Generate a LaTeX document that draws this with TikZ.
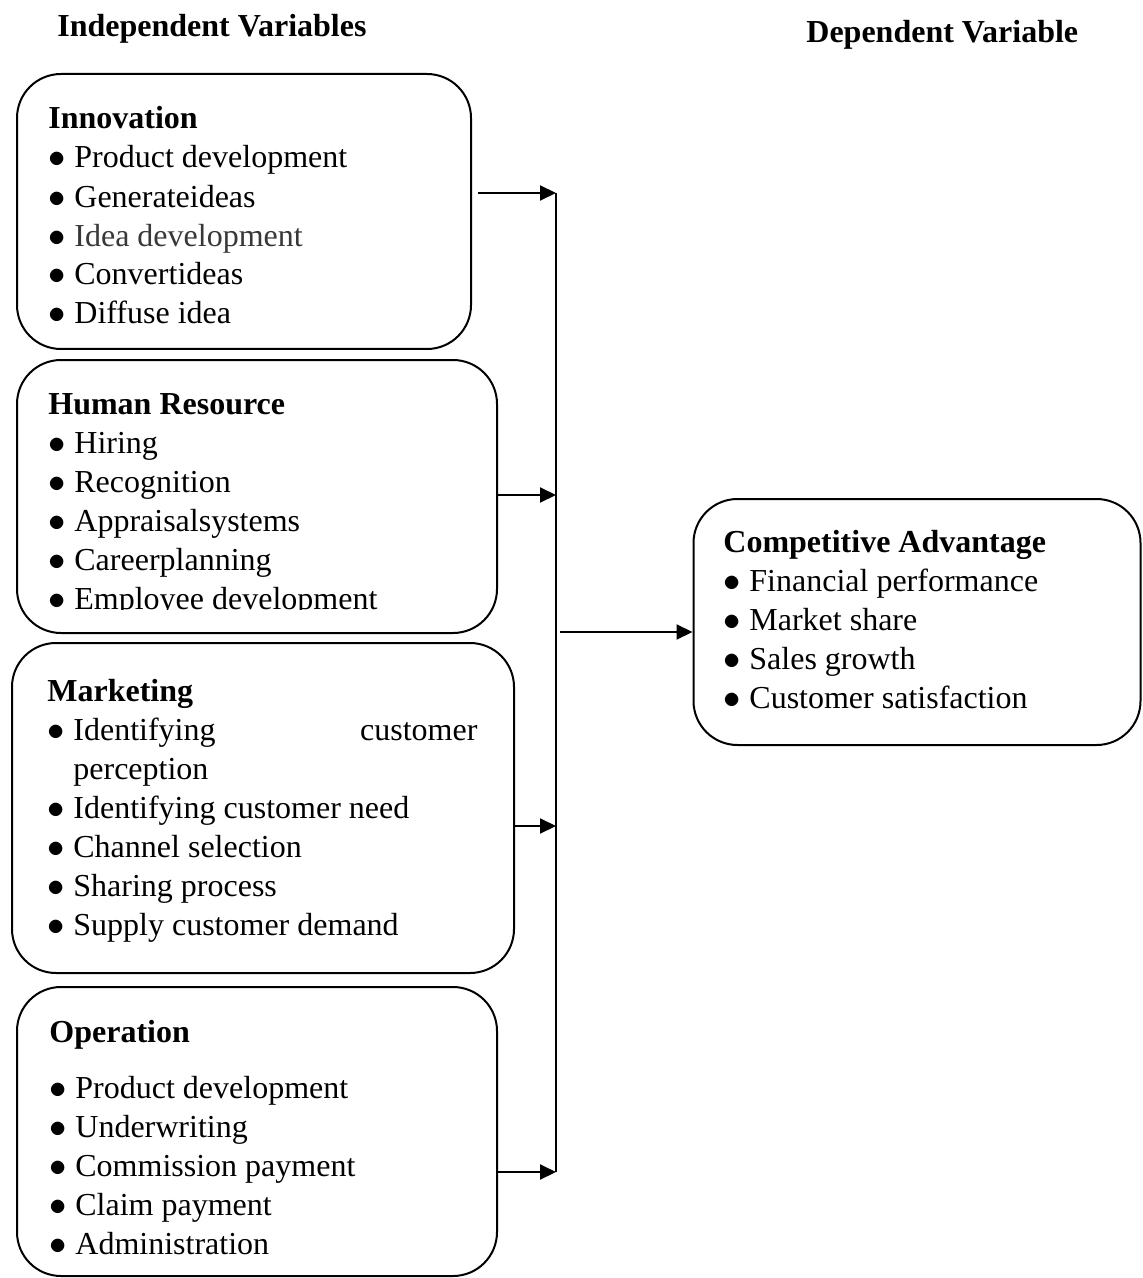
\documentclass[tikz,border=0pt]{standalone}
\usepackage{fontspec}
\setmainfont{Liberation Serif}
\usetikzlibrary{arrows.meta}
\newcommand{\itm}{\makebox[13pt][l]{$\bullet$}}

\begin{document}
\begin{tikzpicture}[
    x=0.5pt, y=-0.5pt,
    font=\fontsize{16pt}{19.5pt}\selectfont,
    varbox/.style={draw, line width=1pt, rounded corners=22pt, inner sep=0pt},
    itemlist/.style={anchor=base west, align=left, inner sep=0pt},
    head/.style={anchor=base west, inner sep=0pt,
        font=\fontsize{16pt}{19.5pt}\selectfont\bfseries},
    flow/.style={-{Triangle[length=8pt, width=7.5pt]}, line width=1pt}
]
\useasboundingbox (0,0) rectangle (1142,1278);
\node[head] (indepHead) at (57,37) {Independent Variables};
\node[head] (depHead) at (806,43) {Dependent Variable};
\node[varbox, minimum width=227pt, minimum height=137.5pt] (inno) at (244,211.5) {};
\node[varbox, minimum width=240pt, minimum height=136.5pt] (hr) at (257,496.5) {};
\node[varbox, minimum width=251pt, minimum height=165pt] (mkt) at (263,808) {};
\node[varbox, minimum width=240pt, minimum height=144.5pt] (oper) at (257,1131.5) {};
\node[varbox, minimum width=223.5pt, minimum height=123pt] (comp) at (917,622) {};
\node[itemlist] (innoText) at (48,324)
    {\textbf{Innovation}\\
     \itm Product development\\
     \itm Generateideas\\
     \itm {\color{black!78}Idea development}\\
     \itm Convertideas\\
     \itm Diffuse idea};
\begin{scope}
\clip (0,360) rectangle (560,609);
\node[itemlist] (hrText) at (48,609)
    {\textbf{Human Resource}\\
     \itm Hiring\\
     \itm Recognition\\
     \itm Appraisalsystems\\
     \itm Careerplanning\\
     \itm Employee development};
\end{scope}
\node[itemlist] (mktText) at (47,935)
    {\textbf{Marketing}\\
     \itm\hbox to 202pt{Identifying\hfill customer}\\
     \hspace*{13pt}perception\\
     \itm Identifying customer need\\
     \itm Channel selection\\
     \itm Sharing process\\
     \itm Supply customer demand};
\node[itemlist] (operText) at (49,1254)
    {\textbf{Operation}\\[8.5pt]
     \itm Product development\\
     \itm Underwriting\\
     \itm Commission payment\\
     \itm Claim payment\\
     \itm Administration};
\node[itemlist] (compText) at (723,708)
    {\textbf{Competitive Advantage}\\
     \itm Financial performance\\
     \itm Market share\\
     \itm Sales growth\\
     \itm Customer satisfaction};
\coordinate (busInno) at (556,193);
\coordinate (busHr) at (556,495);
\coordinate (busMkt) at (556,826);
\coordinate (busOper) at (556,1172);
\coordinate (busOut) at (556,632);
\draw[line width=1pt] (busInno) -- (busOper);
\draw[flow, shorten <=3pt] (inno.east |- busInno) -- (busInno);
\draw[flow] (hr.east |- busHr) -- (busHr);
\draw[flow] (mkt.east |- busMkt) -- (busMkt);
\draw[flow] (oper.east |- busOper) -- (busOper);
\draw[flow, shorten <=2pt] (busOut) -- (comp.west |- busOut);
\end{tikzpicture}
\end{document}
